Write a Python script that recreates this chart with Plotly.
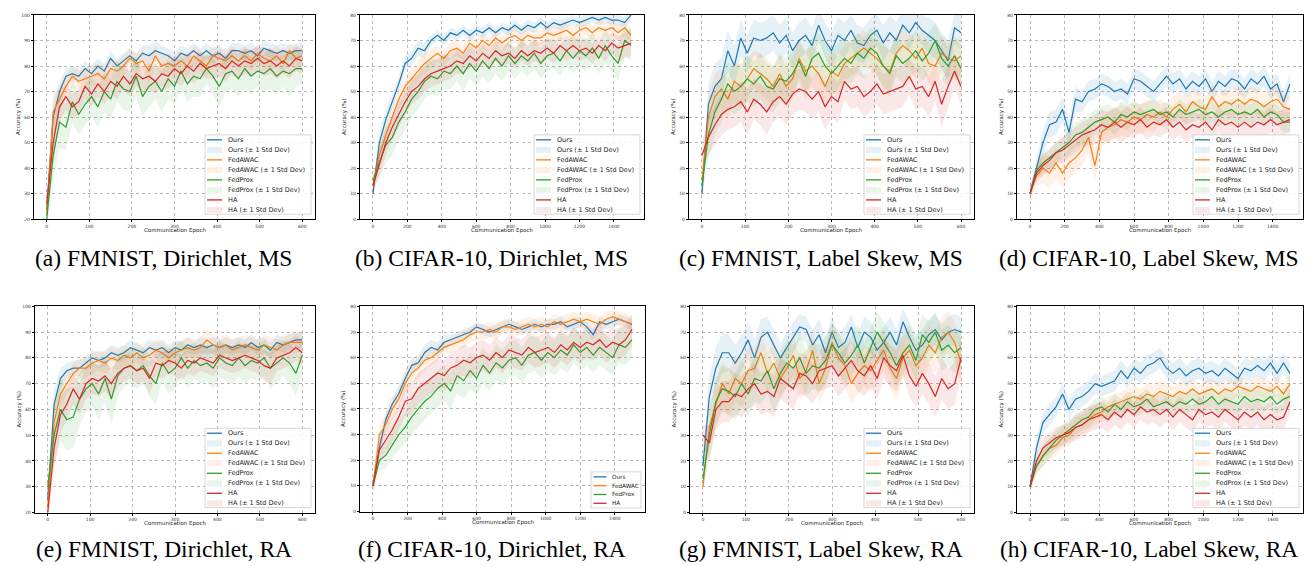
import plotly.graph_objects as go

# ---------------- data ----------------
METHODS = ["Ours", "FedAWAC", "FedProx", "HA"]

EPOCHS_600 = [0, 15, 30, 45, 60, 75, 90, 105, 120, 135, 150, 165, 180, 195, 210, 225, 240, 255, 270, 285,
              300, 315, 330, 345, 360, 375, 390, 405, 420, 435, 450, 465, 480, 495, 510, 525, 540, 555, 570, 585, 600]
EPOCHS_1500 = [0, 37.5, 75, 112.5, 150, 187.5, 225, 262.5, 300, 337.5, 375, 412.5, 450, 487.5, 525, 562.5,
               600, 637.5, 675, 712.5, 750, 787.5, 825, 862.5, 900, 937.5, 975, 1012.5, 1050, 1087.5, 1125,
               1162.5, 1200, 1237.5, 1275, 1312.5, 1350, 1387.5, 1425, 1462.5, 1500]
TICKS_600 = [0, 100, 200, 300, 400, 500, 600]
TICKS_1500 = [0, 200, 400, 600, 800, 1000, 1200, 1400]

# (a) FMNIST, Dirichlet, MS
A_OURS = [24, 60, 70, 76, 77, 76, 79, 77, 80, 78, 83, 80, 82, 84, 82, 85, 84, 86, 85, 84, 82, 85, 84, 86, 84, 86, 84, 85, 83, 86, 86, 85, 86, 84, 87, 86, 85, 86, 85, 86, 86]
A_AWAC = [22, 62, 67, 72, 76, 74, 75, 76, 77, 75, 79, 78, 80, 83, 81, 82, 78, 84, 80, 81, 80, 82, 80, 84, 82, 80, 84, 83, 82, 84, 82, 84, 82, 85, 83, 82, 84, 81, 86, 83, 84]
A_PROX = [20, 45, 58, 56, 66, 61, 65, 68, 64, 70, 67, 74, 71, 70, 76, 68, 72, 74, 70, 75, 72, 78, 73, 76, 75, 79, 76, 72, 77, 78, 75, 79, 76, 78, 77, 79, 76, 78, 77, 79, 79]
A_HA = [26, 50, 64, 68, 64, 66, 72, 69, 73, 70, 74, 72, 76, 73, 77, 75, 76, 74, 77, 76, 79, 77, 80, 78, 81, 79, 80, 81, 79, 82, 80, 82, 81, 83, 81, 82, 80, 82, 80, 83, 82]
A_OURS_SD = [3, 6, 4, 3, 3, 3, 3, 3, 3, 3, 3, 3, 3, 3, 3, 3, 4, 4, 3, 3, 3, 3, 3, 3, 3, 3, 3, 3, 3, 3, 3, 3, 3, 3, 3, 3, 3, 3, 3, 3, 3]
A_AWAC_SD = [4, 8, 5, 4, 4, 4, 4, 4, 4, 5, 4, 4, 4, 4, 4, 4, 5, 4, 4, 4, 4, 4, 4, 4, 4, 4, 4, 4, 4, 4, 4, 4, 4, 3, 4, 4, 4, 4, 3, 4, 3]
A_PROX_SD = [4, 10, 10, 9, 8, 8, 8, 8, 8, 8, 8, 8, 8, 8, 8, 8, 8, 7, 8, 8, 7, 7, 7, 8, 7, 6, 7, 8, 7, 7, 7, 8, 7, 6, 7, 8, 7, 6, 9, 7, 6]
A_HA_SD = [5, 8, 6, 5, 5, 5, 5, 5, 5, 5, 5, 5, 5, 5, 5, 5, 5, 5, 5, 5, 5, 5, 5, 5, 5, 4, 5, 5, 5, 5, 5, 5, 5, 5, 5, 5, 5, 5, 5, 5, 5]

# (b) CIFAR-10, Dirichlet, MS
B_OURS = [10, 30, 39, 46, 53, 61, 63, 67, 66, 70, 72, 70, 73, 72, 74, 72, 74, 73, 75, 73, 75, 74, 76, 74, 76, 75, 77, 75, 77, 76, 77, 78, 77, 78, 79, 78, 79, 78, 78, 77, 80]
B_AWAC = [13, 25, 33, 40, 47, 52, 55, 58, 61, 63, 65, 63, 66, 67, 65, 69, 67, 70, 68, 71, 69, 71, 72, 70, 72, 71, 71, 73, 72, 73, 74, 72, 74, 75, 73, 75, 74, 75, 73, 75, 72]
B_PROX = [15, 22, 29, 32, 38, 42, 47, 50, 54, 56, 55, 58, 57, 60, 57, 61, 58, 62, 59, 63, 60, 64, 61, 64, 62, 65, 61, 64, 65, 62, 66, 63, 66, 64, 67, 63, 68, 64, 61, 70, 68]
B_HA = [13, 22, 30, 36, 41, 46, 50, 52, 55, 57, 58, 59, 60, 62, 61, 64, 62, 65, 63, 66, 64, 65, 63, 66, 64, 66, 65, 67, 65, 68, 66, 68, 66, 67, 65, 68, 66, 69, 67, 68, 69]
B_OURS_SD = [2, 4, 4, 3, 3, 3, 3, 3, 3, 2, 2, 2, 2, 2, 2, 2, 2, 2, 2, 2, 2, 2, 2, 2, 2, 2, 2, 2, 2, 2, 2, 2, 2, 2, 2, 2, 2, 2, 2, 2, 2]
B_AWAC_SD = [3, 4, 4, 4, 4, 4, 4, 4, 4, 4, 3, 3, 3, 3, 3, 3, 3, 3, 3, 3, 3, 3, 3, 3, 3, 3, 3, 3, 3, 3, 3, 3, 3, 3, 3, 3, 3, 3, 3, 3, 3]
B_PROX_SD = [3, 6, 7, 7, 7, 7, 7, 7, 7, 7, 7, 7, 6, 6, 7, 6, 6, 6, 6, 6, 6, 6, 6, 6, 6, 6, 6, 6, 6, 6, 6, 6, 6, 6, 6, 6, 7, 6, 7, 6, 6]
B_HA_SD = [3, 5, 5, 5, 5, 5, 5, 5, 5, 5, 5, 5, 5, 5, 4, 4, 4, 4, 4, 4, 4, 4, 4, 4, 4, 4, 4, 4, 4, 4, 4, 4, 4, 4, 4, 4, 4, 4, 5, 5, 5]

# (c) FMNIST, Label Skew, MS
C_OURS = [10, 45, 52, 55, 66, 60, 71, 65, 71, 70, 71, 73, 69, 72, 66, 70, 72, 68, 76, 70, 66, 72, 70, 74, 69, 68, 72, 74, 69, 73, 70, 76, 73, 77, 74, 72, 70, 66, 62, 75, 73]
C_AWAC = [15, 40, 48, 51, 47, 54, 52, 55, 59, 57, 55, 52, 57, 52, 55, 63, 58, 60, 57, 52, 58, 56, 61, 63, 65, 67, 65, 63, 60, 58, 65, 68, 66, 63, 67, 61, 60, 65, 63, 62, 64]
C_PROX = [13, 33, 42, 47, 53, 50, 52, 55, 53, 56, 52, 51, 55, 54, 57, 62, 56, 63, 65, 60, 57, 60, 63, 61, 65, 63, 67, 65, 60, 57, 64, 61, 63, 66, 62, 65, 70, 63, 60, 64, 59]
C_HA = [25, 32, 37, 41, 43, 44, 46, 42, 47, 45, 42, 46, 48, 45, 49, 51, 50, 47, 50, 44, 48, 46, 54, 51, 52, 48, 50, 53, 49, 50, 51, 52, 56, 51, 52, 48, 54, 45, 52, 58, 52]
C_OURS_SD = [3, 8, 9, 8, 8, 8, 7, 7, 7, 7, 7, 7, 7, 7, 7, 7, 7, 7, 6, 7, 7, 7, 7, 6, 7, 7, 7, 6, 7, 7, 7, 6, 7, 5, 6, 7, 7, 7, 8, 6, 7]
C_AWAC_SD = [4, 8, 9, 8, 8, 8, 8, 8, 7, 8, 8, 8, 8, 8, 8, 7, 8, 8, 8, 8, 8, 8, 7, 7, 7, 7, 7, 7, 8, 8, 7, 7, 7, 8, 7, 8, 8, 7, 7, 8, 7]
C_PROX_SD = [4, 9, 9, 9, 9, 9, 9, 9, 9, 9, 9, 9, 9, 9, 9, 8, 9, 8, 8, 9, 9, 9, 8, 8, 8, 8, 8, 8, 9, 9, 8, 8, 8, 8, 8, 8, 7, 8, 8, 8, 8]
C_HA_SD = [5, 7, 8, 8, 8, 8, 8, 9, 8, 8, 9, 8, 8, 8, 8, 8, 8, 8, 8, 9, 8, 8, 7, 8, 8, 8, 8, 8, 8, 8, 8, 8, 7, 8, 8, 8, 8, 9, 8, 7, 7]

# (d) CIFAR-10, Label Skew, MS
D_OURS = [10, 20, 30, 37, 38, 43, 34, 47, 46, 50, 51, 53, 52, 50, 51, 49, 55, 54, 52, 50, 53, 56, 53, 55, 51, 54, 52, 55, 50, 54, 52, 55, 54, 51, 55, 53, 56, 51, 53, 46, 53]
D_AWAC = [10, 17, 20, 18, 22, 18, 22, 24, 27, 32, 21, 34, 36, 37, 39, 38, 40, 39, 41, 40, 42, 40, 43, 45, 42, 46, 44, 43, 48, 44, 46, 45, 47, 45, 47, 46, 44, 46, 47, 44, 43]
D_PROX = [10, 19, 22, 24, 26, 28, 30, 33, 34, 36, 38, 39, 40, 38, 41, 40, 42, 41, 42, 43, 41, 42, 40, 43, 41, 42, 43, 41, 42, 40, 42, 43, 41, 42, 41, 43, 40, 42, 41, 38, 38]
D_HA = [10, 18, 21, 23, 26, 27, 29, 31, 33, 34, 35, 37, 36, 38, 36, 38, 37, 39, 36, 38, 37, 39, 36, 38, 35, 37, 36, 38, 35, 39, 37, 38, 36, 38, 36, 38, 37, 39, 37, 38, 39]
D_OURS_SD = [2, 4, 5, 5, 5, 5, 5, 5, 4, 4, 4, 4, 4, 4, 4, 4, 4, 4, 4, 4, 4, 4, 4, 4, 4, 4, 4, 4, 4, 4, 4, 4, 4, 4, 4, 4, 4, 4, 4, 4, 4]
D_AWAC_SD = [2, 4, 6, 6, 6, 6, 6, 6, 6, 6, 6, 6, 6, 6, 6, 6, 6, 6, 6, 6, 5, 5, 5, 5, 5, 5, 5, 5, 5, 5, 5, 5, 5, 5, 5, 5, 5, 5, 5, 5, 5]
D_PROX_SD = [2, 3, 4, 4, 4, 4, 5, 5, 5, 5, 5, 5, 5, 5, 5, 5, 4, 4, 4, 4, 4, 4, 4, 4, 4, 4, 4, 4, 4, 4, 4, 4, 4, 4, 4, 4, 4, 4, 4, 4, 4]
D_HA_SD = [2, 3, 4, 4, 4, 5, 5, 5, 5, 5, 6, 6, 6, 6, 6, 6, 5, 5, 5, 5, 5, 5, 5, 5, 5, 5, 5, 5, 5, 5, 5, 5, 5, 5, 5, 5, 5, 5, 5, 5, 5]

# (e) FMNIST, Dirichlet, RA
E_OURS = [25, 62, 72, 75, 76, 76, 78, 80, 79, 80, 82, 81, 82, 84, 83, 82, 84, 83, 84, 82, 84, 83, 85, 84, 85, 84, 85, 84, 85, 84, 85, 84, 86, 84, 85, 83, 86, 85, 86, 87, 87]
E_AWAC = [22, 55, 66, 70, 74, 76, 76, 78, 79, 78, 80, 79, 81, 80, 82, 80, 81, 83, 82, 80, 82, 83, 84, 83, 84, 87, 85, 84, 85, 83, 84, 85, 84, 83, 85, 84, 83, 85, 86, 86, 86]
E_PROX = [30, 50, 60, 56, 57, 64, 68, 70, 66, 72, 64, 73, 76, 77, 75, 77, 73, 70, 78, 74, 76, 80, 76, 79, 77, 78, 76, 80, 78, 77, 80, 77, 79, 78, 80, 76, 78, 80, 78, 74, 81]
E_HA = [20, 45, 58, 62, 68, 64, 70, 72, 71, 73, 70, 74, 76, 77, 75, 76, 72, 78, 77, 79, 78, 76, 79, 78, 80, 79, 78, 81, 80, 79, 80, 81, 80, 79, 77, 76, 80, 81, 82, 84, 82]
E_OURS_SD = [4, 6, 4, 3, 3, 3, 3, 3, 3, 3, 3, 3, 3, 3, 3, 3, 3, 3, 3, 3, 3, 3, 3, 3, 3, 3, 3, 3, 3, 3, 3, 3, 3, 3, 3, 3, 3, 3, 3, 3, 3]
E_AWAC_SD = [5, 7, 5, 4, 4, 4, 4, 4, 4, 4, 4, 4, 4, 4, 4, 4, 4, 4, 4, 4, 4, 4, 4, 3, 4, 4, 4, 4, 4, 4, 4, 4, 4, 4, 4, 4, 4, 4, 4, 4, 4]
E_PROX_SD = [5, 12, 12, 12, 12, 10, 9, 9, 10, 9, 10, 8, 7, 7, 7, 7, 8, 8, 7, 8, 8, 7, 8, 7, 7, 7, 8, 7, 7, 7, 7, 7, 7, 7, 7, 8, 8, 7, 8, 9, 7]
E_HA_SD = [5, 8, 7, 6, 6, 6, 6, 6, 6, 6, 6, 5, 5, 5, 5, 5, 6, 5, 5, 5, 5, 5, 5, 5, 5, 5, 5, 5, 5, 5, 5, 5, 5, 5, 6, 6, 5, 5, 5, 5, 5]

# (f) CIFAR-10, Dirichlet, RA
F_OURS = [10, 25, 36, 42, 46, 52, 57, 58, 62, 64, 63, 66, 67, 68, 69, 70, 72, 71, 70, 71, 72, 73, 72, 71, 72, 73, 72, 73, 73, 74, 72, 73, 74, 72, 69, 74, 73, 74, 75, 74, 73]
F_AWAC = [10, 30, 34, 40, 44, 50, 54, 56, 59, 60, 62, 64, 65, 66, 67, 69, 70, 70, 71, 70, 72, 72, 71, 72, 73, 72, 73, 72, 74, 73, 74, 75, 74, 75, 74, 73, 75, 76, 75, 74, 73]
F_PROX = [10, 20, 22, 26, 30, 33, 37, 40, 43, 45, 48, 50, 47, 53, 51, 55, 52, 57, 54, 58, 56, 59, 60, 57, 61, 62, 59, 62, 60, 63, 61, 65, 62, 64, 61, 64, 62, 60, 65, 64, 67]
F_HA = [10, 24, 28, 32, 37, 43, 44, 48, 50, 52, 54, 53, 56, 57, 59, 58, 60, 61, 59, 62, 60, 63, 62, 61, 64, 62, 63, 64, 62, 65, 63, 66, 64, 66, 65, 67, 64, 66, 65, 67, 71]
F_OURS_SD = [2, 3, 3, 3, 3, 3, 3, 3, 3, 3, 3, 3, 2, 2, 2, 2, 2, 2, 2, 2, 2, 2, 2, 2, 2, 2, 2, 2, 2, 2, 2, 2, 2, 2, 2, 2, 2, 2, 2, 2, 2]
F_AWAC_SD = [2, 4, 4, 4, 4, 4, 4, 4, 4, 3, 3, 3, 3, 3, 3, 3, 3, 3, 3, 3, 3, 3, 3, 3, 3, 3, 3, 3, 3, 3, 3, 3, 3, 3, 3, 3, 3, 3, 3, 3, 3]
F_PROX_SD = [2, 4, 5, 5, 6, 6, 7, 7, 7, 7, 7, 7, 7, 7, 7, 7, 7, 7, 7, 7, 7, 7, 7, 7, 7, 7, 7, 7, 7, 7, 7, 7, 7, 7, 7, 7, 7, 7, 7, 7, 7]
F_HA_SD = [2, 4, 5, 5, 5, 6, 6, 6, 6, 6, 6, 6, 6, 6, 6, 6, 6, 6, 6, 6, 6, 6, 6, 6, 6, 6, 6, 6, 6, 6, 6, 6, 6, 6, 6, 6, 6, 6, 6, 6, 6]

# (g) FMNIST, Label Skew, RA
G_OURS = [18, 45, 56, 62, 62, 58, 62, 67, 60, 68, 70, 65, 60, 64, 68, 72, 71, 65, 69, 62, 70, 64, 66, 72, 64, 70, 68, 63, 66, 70, 65, 74, 68, 63, 65, 69, 71, 67, 70, 71, 70]
G_AWAC = [10, 33, 42, 50, 46, 52, 50, 55, 56, 62, 54, 58, 52, 56, 61, 52, 55, 63, 50, 56, 66, 60, 57, 50, 54, 57, 55, 59, 63, 56, 52, 60, 63, 57, 60, 65, 62, 68, 70, 66, 58]
G_PROX = [13, 30, 43, 48, 47, 45, 50, 46, 52, 51, 55, 48, 54, 58, 56, 60, 54, 57, 56, 59, 65, 62, 58, 61, 65, 58, 64, 70, 66, 62, 57, 62, 65, 59, 69, 66, 70, 63, 65, 62, 64]
G_HA = [30, 27, 40, 43, 43, 46, 45, 48, 50, 46, 47, 45, 52, 50, 48, 54, 53, 50, 55, 56, 57, 53, 56, 59, 55, 53, 57, 52, 60, 57, 55, 61, 53, 49, 54, 50, 45, 52, 48, 50, 60]
G_OURS_SD = [4, 8, 8, 8, 7, 7, 7, 7, 7, 7, 6, 6, 6, 6, 6, 5, 5, 6, 6, 6, 6, 6, 6, 5, 6, 6, 6, 6, 6, 6, 6, 5, 6, 6, 6, 6, 6, 6, 6, 6, 6]
G_AWAC_SD = [4, 8, 9, 9, 9, 9, 9, 9, 8, 8, 8, 8, 8, 8, 8, 8, 8, 8, 8, 8, 8, 8, 8, 8, 8, 8, 8, 8, 8, 8, 8, 8, 8, 8, 8, 8, 8, 8, 8, 8, 8]
G_PROX_SD = [4, 8, 9, 9, 9, 9, 9, 9, 9, 9, 9, 9, 9, 9, 9, 9, 9, 9, 9, 9, 8, 8, 8, 8, 8, 8, 8, 8, 8, 8, 8, 8, 8, 8, 8, 8, 8, 8, 8, 8, 8]
G_HA_SD = [4, 7, 8, 8, 8, 8, 8, 8, 8, 8, 8, 8, 8, 8, 8, 8, 8, 8, 8, 8, 8, 8, 8, 8, 8, 8, 8, 8, 8, 8, 8, 8, 8, 8, 8, 8, 8, 8, 8, 8, 8]

# (h) CIFAR-10, Label Skew, RA
H_OURS = [10, 25, 35, 38, 41, 46, 40, 44, 45, 47, 50, 49, 50, 51, 55, 52, 56, 54, 57, 58, 60, 56, 54, 56, 53, 55, 56, 54, 55, 53, 56, 54, 52, 56, 55, 57, 55, 58, 54, 58, 54]
H_AWAC = [10, 18, 22, 25, 26, 29, 30, 33, 34, 36, 38, 39, 41, 42, 43, 44, 45, 44, 46, 45, 47, 46, 45, 47, 46, 48, 46, 47, 48, 46, 48, 47, 49, 48, 47, 49, 48, 47, 49, 46, 50]
H_PROX = [10, 18, 22, 25, 28, 30, 32, 34, 36, 37, 40, 41, 39, 42, 40, 43, 41, 42, 44, 41, 42, 43, 41, 43, 42, 44, 42, 43, 45, 42, 44, 43, 42, 45, 43, 44, 43, 45, 42, 44, 45]
H_HA = [10, 20, 25, 27, 29, 30, 31, 33, 34, 36, 37, 38, 36, 39, 37, 40, 38, 41, 39, 40, 38, 40, 37, 40, 38, 36, 40, 38, 39, 37, 40, 38, 36, 39, 37, 39, 36, 38, 36, 37, 43]
H_OURS_SD = [2, 4, 4, 4, 4, 4, 4, 4, 4, 4, 4, 4, 4, 4, 4, 4, 4, 4, 4, 4, 4, 4, 4, 4, 4, 4, 4, 4, 4, 4, 4, 4, 4, 4, 4, 4, 4, 4, 4, 4, 4]
H_AWAC_SD = [2, 3, 4, 4, 4, 4, 4, 4, 4, 4, 4, 4, 4, 4, 4, 4, 4, 4, 4, 4, 4, 4, 4, 4, 4, 4, 4, 4, 4, 4, 4, 4, 4, 4, 4, 4, 4, 4, 4, 4, 4]
H_PROX_SD = [2, 3, 4, 4, 4, 4, 4, 4, 4, 4, 4, 4, 4, 4, 4, 4, 4, 4, 4, 4, 4, 4, 4, 4, 4, 4, 4, 4, 4, 4, 4, 4, 4, 4, 4, 4, 4, 4, 4, 4, 4]
H_HA_SD = [2, 3, 4, 4, 4, 4, 4, 5, 5, 5, 5, 5, 5, 5, 5, 5, 5, 5, 5, 5, 5, 5, 5, 5, 5, 5, 5, 5, 5, 5, 5, 5, 5, 5, 5, 5, 5, 5, 5, 5, 5]

CAPTIONS = ["(a) FMNIST, Dirichlet, MS", "(b) CIFAR-10, Dirichlet, MS", "(c) FMNIST, Label Skew, MS",
            "(d) CIFAR-10, Label Skew, MS", "(e) FMNIST, Dirichlet, RA", "(f) CIFAR-10, Dirichlet, RA",
            "(g) FMNIST, Label Skew, RA", "(h) CIFAR-10, Label Skew, RA"]

# ---------------- styling / layout ----------------
W, H = 1314, 566
COLORS = ["#1f77b4", "#ff7f0e", "#2ca02c", "#d62728"]
FILLS = ["rgba(31,119,180,0.11)", "rgba(255,127,14,0.11)", "rgba(44,160,44,0.11)", "rgba(214,39,40,0.11)"]
FONT = "DejaVu Sans"
SERIF = "Liberation Serif"

# pixel boxes of each axes: (left, top, right, bottom)
BOXES = [(26, 5, 307, 211), (352, 5, 636, 211), (681, 5, 966, 211), (1009, 5, 1295, 211),
         (27, 299, 307, 507), (352, 299, 637, 506), (682, 299, 966, 507), (1009, 299, 1295, 507)]

panels = [
    (EPOCHS_600, [A_OURS, A_AWAC, A_PROX, A_HA], [A_OURS_SD, A_AWAC_SD, A_PROX_SD, A_HA_SD], 20, 100, True),
    (EPOCHS_1500, [B_OURS, B_AWAC, B_PROX, B_HA], [B_OURS_SD, B_AWAC_SD, B_PROX_SD, B_HA_SD], 0, 80, True),
    (EPOCHS_600, [C_OURS, C_AWAC, C_PROX, C_HA], [C_OURS_SD, C_AWAC_SD, C_PROX_SD, C_HA_SD], 0, 80, True),
    (EPOCHS_1500, [D_OURS, D_AWAC, D_PROX, D_HA], [D_OURS_SD, D_AWAC_SD, D_PROX_SD, D_HA_SD], 0, 80, True),
    (EPOCHS_600, [E_OURS, E_AWAC, E_PROX, E_HA], [E_OURS_SD, E_AWAC_SD, E_PROX_SD, E_HA_SD], 20, 100, True),
    (EPOCHS_1500, [F_OURS, F_AWAC, F_PROX, F_HA], [F_OURS_SD, F_AWAC_SD, F_PROX_SD, F_HA_SD], 0, 80, False),
    (EPOCHS_600, [G_OURS, G_AWAC, G_PROX, G_HA], [G_OURS_SD, G_AWAC_SD, G_PROX_SD, G_HA_SD], 0, 80, True),
    (EPOCHS_1500, [H_OURS, H_AWAC, H_PROX, H_HA], [H_OURS_SD, H_AWAC_SD, H_PROX_SD, H_HA_SD], 0, 80, True),
]

for pi, (ep, means, sds, _, _, _) in enumerate(panels):
    for arr in means + sds:
        assert len(arr) == len(ep), (pi, len(arr))


def px(x):
    return x / W


def py(y):
    return 1 - y / H


fig = go.Figure()
layout = dict(width=W, height=H, margin=dict(l=0, r=0, t=0, b=0), paper_bgcolor="white",
              plot_bgcolor="white", showlegend=False, font=dict(family=FONT, color="#222"))
shapes = []
annotations = []

for pi, (ep, means, sds, y0, y1, full_legend) in enumerate(panels):
    suf = "" if pi == 0 else str(pi + 1)
    l, t, r, b = BOXES[pi]
    is600 = ep[-1] == 600
    ticks = TICKS_600 if is600 else TICKS_1500
    xr = [-30, 630] if is600 else [-75, 1575]

    for j in range(4):
        m, s = means[j], sds[j]
        fig.add_trace(go.Scatter(x=ep, y=m, mode="lines", line=dict(color=COLORS[j], width=1.2),
                                 xaxis="x" + suf, yaxis="y" + suf, hoverinfo="skip", name=METHODS[j]))
        upper = [a + c for a, c in zip(m, s)]
        lower = [a - c for a, c in zip(m, s)]
        fig.add_trace(go.Scatter(x=list(ep) + list(ep)[::-1], y=upper + lower[::-1], mode="lines",
                                 fill="toself", fillcolor=FILLS[j], line=dict(width=0),
                                 xaxis="x" + suf, yaxis="y" + suf, hoverinfo="skip",
                                 name=METHODS[j] + " (± 1 Std Dev)"))

    common = dict(showgrid=True, gridcolor="#b8b8b8", griddash="dot", gridwidth=0.7,
                  showline=True, linecolor="black", linewidth=1.3, mirror=True,
                  ticks="outside", ticklen=2, tickwidth=0.6, tickcolor="black",
                  tickfont=dict(size=4.5, color="#333", family=FONT), zeroline=False)
    layout["xaxis" + suf] = dict(domain=[px(l), px(r)], range=xr, tickvals=ticks,
                                 ticktext=[str(v) for v in ticks], anchor="y" + suf, **common)
    layout["yaxis" + suf] = dict(domain=[py(b), py(t)], range=[y0, y1],
                                 tickvals=list(range(y0, y1 + 1, 10)),
                                 ticktext=[str(v) for v in range(y0, y1 + 1, 10)],
                                 anchor="x" + suf, **common)

    # axis titles
    annotations.append(dict(text="Communication Epoch", x=px((l + r) / 2), y=py(b + 11), xref="paper",
                            yref="paper", showarrow=False, font=dict(size=5.5, family=FONT, color="#222"),
                            xanchor="center", yanchor="middle"))
    annotations.append(dict(text="Accuracy (%)", x=px(l - 16), y=py((t + b) / 2), xref="paper",
                            yref="paper", showarrow=False, textangle=-90,
                            font=dict(size=5.5, family=FONT, color="#222"),
                            xanchor="center", yanchor="middle"))
    # caption
    cy = 250 if pi < 4 else 544
    annotations.append(dict(text=CAPTIONS[pi], x=px((l + r) / 2 - 11), y=py(cy), xref="paper",
                            yref="paper", showarrow=False, font=dict(size=23.5, family=SERIF, color="black"),
                            xanchor="center", yanchor="middle"))

    # legend (drawn inside the axes, bottom-right)
    if full_legend:
        bw, bh, step, fs = 106, 80, 10.1, 6.5
        br, bb = r - 4, b - 5
        bl, bt = br - bw, bb - bh
        entries = []
        for j in range(4):
            entries.append((METHODS[j], j, "line"))
            entries.append((METHODS[j] + " (± 1 Std Dev)", j, "patch"))
        k0, k1, tx = 2, 17, 22
    else:
        bw, bh, step, fs = 50, 36.5, 8.9, 5.7
        br, bb = r - 4, b - 3.5
        bl, bt = br - bw, bb - bh
        entries = [(METHODS[j], j, "line") for j in range(4)]
        k0, k1, tx = 2.5, 15.5, 19.5
    shapes.append(dict(type="rect", xref="paper", yref="paper", x0=px(bl), x1=px(br), y0=py(bb), y1=py(bt),
                       fillcolor="rgba(255,255,255,0.85)", line=dict(color="#cccccc", width=0.8), layer="above"))
    for k, (label, j, kind) in enumerate(entries):
        yc = bt + 5 + step * k
        if kind == "line":
            shapes.append(dict(type="line", xref="paper", yref="paper", x0=px(bl + k0), x1=px(bl + k1),
                               y0=py(yc), y1=py(yc), line=dict(color=COLORS[j], width=1.3), layer="above"))
        else:
            shapes.append(dict(type="rect", xref="paper", yref="paper", x0=px(bl + k0), x1=px(bl + k1),
                               y0=py(yc + 3), y1=py(yc - 3), fillcolor=FILLS[j], line=dict(width=0),
                               layer="above"))
        annotations.append(dict(text=label, x=px(bl + tx), y=py(yc), xref="paper", yref="paper",
                                showarrow=False, xanchor="left", yanchor="middle",
                                font=dict(size=fs, family=FONT, color="#222"), borderpad=0))

layout["shapes"] = shapes
layout["annotations"] = annotations
fig.update_layout(**layout)
fig.write_html("out.html")
